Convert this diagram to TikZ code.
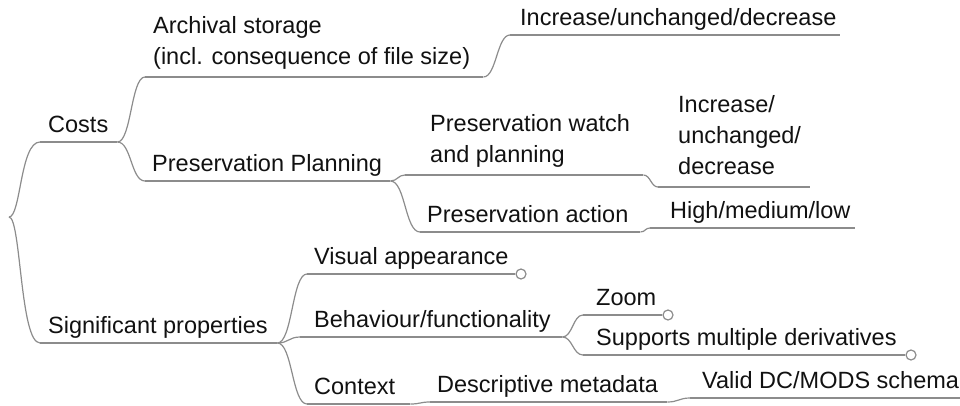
\documentclass[tikz,border=0pt]{standalone}
\usepackage{fontspec}
\setmainfont{Liberation Sans}
\definecolor{lc}{HTML}{8C8C8C}
\definecolor{tc}{HTML}{111111}
\newcommand\tbox[3]{\makebox[#2pt][l]{\hspace*{#1pt}\begin{tabular}[b]{@{}l@{}}#3\end{tabular}}}
\begin{document}
\begin{tikzpicture}[x=1pt,y=-1pt,
  font=\fontsize{23.5}{31}\selectfont,
  topic/.style={inner sep=0pt, anchor=south west, text depth=9pt, text=tc},
  multi/.style={text depth=12pt},
  conn/.style={draw=lc, line width=1.2pt},
  endc/.style={circle, draw=lc, fill=white, line width=1.2pt, minimum size=10pt, inner sep=0pt, anchor=west}]
\useasboundingbox (0,0) rectangle (960,406);
\coordinate (root) at (9,217);
\node[topic] (costs) at (40,142) {\tbox{8}{77}{Costs}};
\node[topic,multi] (arch) at (145,77) {\tbox{8}{338}{Archival storage\\(incl. consequence of file size)}};
\node[topic] (inc1) at (510,35) {\tbox{10}{330}{Increase/unchanged/decrease}};
\node[topic] (pplan) at (145,181) {\tbox{7}{245}{Preservation Planning}};
\node[topic,multi] (pwatch) at (405,175) {\tbox{25}{238}{Preservation watch\\and planning}};
\node[topic,multi] (inc2) at (658,187) {\tbox{20}{152}{Increase/\\unchanged/\\decrease}};
\node[topic] (pact) at (420,232) {\tbox{7}{220}{Preservation action}};
\node[topic] (hml) at (650,228) {\tbox{20}{205}{High/medium/low}};
\node[topic] (sig) at (40,343) {\tbox{8}{237}{Significant properties}};
\node[topic] (vis) at (307,274) {\tbox{7}{208}{Visual appearance}};
\node[topic] (beh) at (300,337) {\tbox{14}{262}{Behaviour/functionality}};
\node[topic] (zoom) at (583,315) {\tbox{13}{79}{Zoom}};
\node[topic] (supp) at (583,355) {\tbox{13}{322}{Supports multiple derivatives}};
\node[topic] (ctx) at (307,404) {\tbox{7}{103}{Context}};
\node[topic] (desc) at (430,402) {\tbox{7}{237}{Descriptive metadata}};
\node[topic] (valid) at (690,398) {\tbox{12}{270}{Valid DC/MODS schema}};
\foreach \n in {costs,arch,inc1,pplan,pwatch,inc2,pact,hml,sig,vis,beh,zoom,supp,ctx,desc,valid}
  \draw[conn] (\n.south west) -- (\n.south east);
\draw[conn] (root) .. controls +(12,0) and +(-20,0) .. (costs.south west);
\draw[conn] (root) .. controls +(12,0) and +(-20,0) .. (sig.south west);
\draw[conn] (costs.south east) .. controls +(14,0) and +(-14,0) .. (arch.south west);
\draw[conn] (costs.south east) .. controls +(14,0) and +(-14,0) .. (pplan.south west);
\draw[conn] (arch.south east) .. controls +(13,0) and +(-13,0) .. (inc1.south west);
\draw[conn] (pplan.south east) .. controls +(7,0) and +(-7,0) .. (pwatch.south west);
\draw[conn] (pplan.south east) .. controls +(15,0) and +(-15,0) .. (pact.south west);
\draw[conn] (pwatch.south east) .. controls +(7,0) and +(-7,0) .. (inc2.south west);
\draw[conn] (pact.south east) .. controls +(5,0) and +(-5,0) .. (hml.south west);
\draw[conn] (sig.south east) .. controls +(15,0) and +(-15,0) .. (vis.south west);
\draw[conn] (sig.south east) .. controls +(11,0) and +(-11,0) .. (beh.south west);
\draw[conn] (sig.south east) .. controls +(15,0) and +(-15,0) .. (ctx.south west);
\draw[conn] (beh.south east) .. controls +(10,0) and +(-10,0) .. (zoom.south west);
\draw[conn] (beh.south east) .. controls +(10,0) and +(-10,0) .. (supp.south west);
\draw[conn] (ctx.south east) .. controls +(10,0) and +(-10,0) .. (desc.south west);
\draw[conn] (desc.south east) .. controls +(11,0) and +(-11,0) .. (valid.south west);
\node[endc] (visE) at (vis.south east) {};
\node[endc] (zoomE) at (zoom.south east) {};
\node[endc] (suppE) at (supp.south east) {};
\end{tikzpicture}
\end{document}
